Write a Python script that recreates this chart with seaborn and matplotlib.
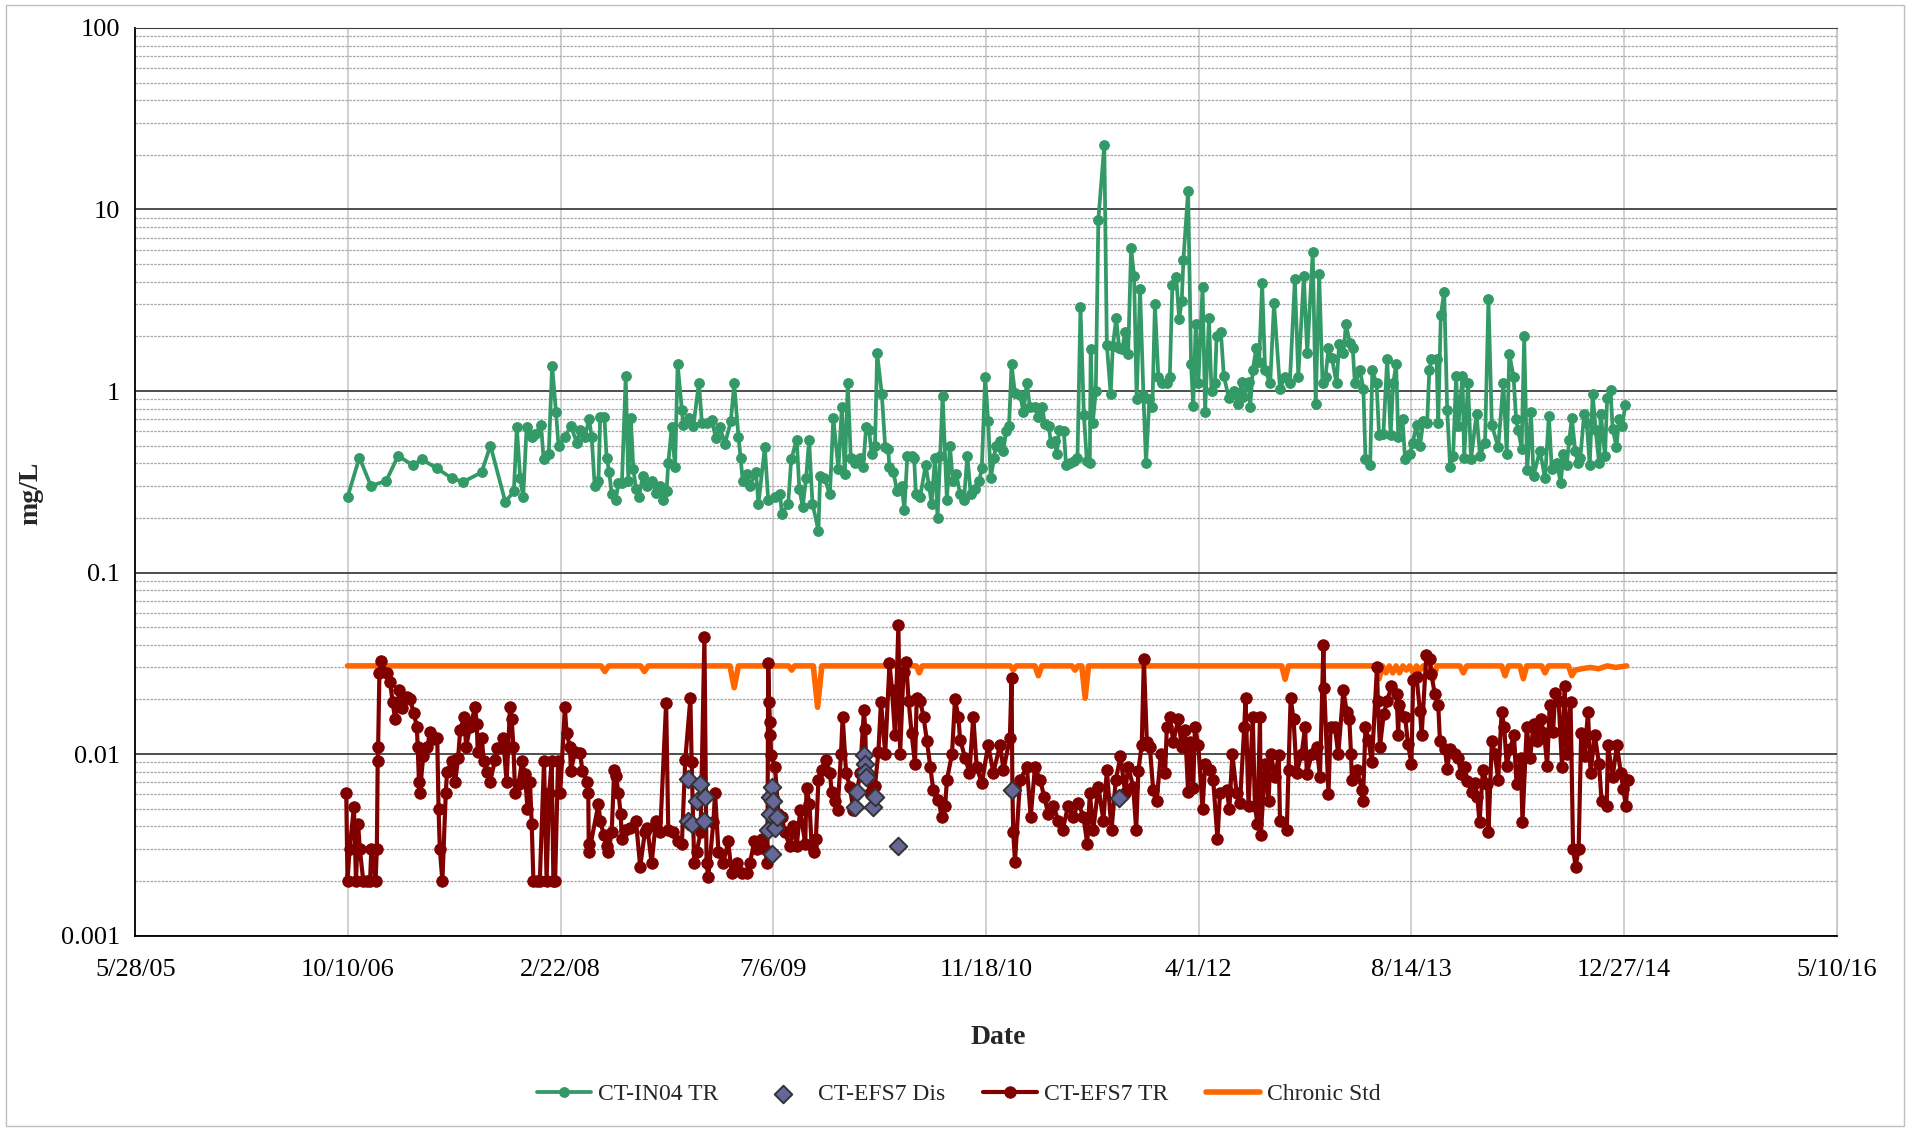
import numpy as np
import pandas as pd
import matplotlib
matplotlib.use("Agg")
import matplotlib.pyplot as plt
import matplotlib.dates as mdates
from matplotlib.ticker import FixedLocator, FuncFormatter, LogLocator, NullFormatter
from matplotlib.patches import Rectangle
import seaborn as sns

# -------------------------------
# Data (Excel serial dates, mg/L)
# -------------------------------
in04_dates = [
    38999, 39027, 39054, 39090, 39118, 39152, 39174, 39209, 39245, 39271, 39314, 39335, 39370, 39390,
    39397, 39405, 39412, 39420, 39432, 39440, 39454, 39460, 39472, 39480, 39489, 39495, 39510, 39524,
    39538, 39546, 39557, 39567, 39573, 39580, 39589, 39593, 39603, 39608, 39614, 39620, 39629, 39636,
    39644, 39653, 39659, 39665, 39671, 39677, 39684, 39693, 39702, 39714, 39724, 39734, 39741, 39749,
    39753, 39761, 39769, 39775, 39785, 39788, 39802, 39812, 39825, 39832, 39843, 39855, 39865, 39875,
    39886, 39900, 39908, 39918, 39923, 39928, 39937, 39945, 39959, 39965, 39980, 39988, 40004, 40016,
    40020, 40035, 40042, 40055, 40061, 40069, 40077, 40084, 40092, 40106, 40110, 40120, 40133, 40141,
    40153, 40161, 40168, 40175, 40182, 40192, 40204, 40211, 40218, 40225, 40231, 40239, 40244, 40255,
    40263, 40270, 40273, 40282, 40291, 40302, 40308, 40315, 40325, 40331, 40335, 40345, 40358, 40366,
    40372, 40380, 40386, 40392, 40398, 40408, 40415, 40422, 40430, 40439, 40448, 40456, 40464, 40474,
    40484, 40490, 40498, 40505, 40511, 40519, 40523, 40533, 40541, 40547, 40554, 40560, 40568, 40580,
    40588, 40596, 40603, 40615, 40623, 40632, 40638, 40648, 40652, 40662, 40666, 40672, 40683, 40688,
    40697, 40707, 40715, 40722, 40730, 40737, 40744, 40746, 40751, 40758, 40764, 40778, 40784, 40793,
    40798, 40806, 40813, 40820, 40827, 40834, 40841, 40848, 40854, 40862, 40870, 40876, 40884, 40891,
    40897, 40905, 40913, 40925, 40932, 40938, 40947, 40954, 40960, 40964, 40975, 40982, 40987, 40993,
    40999, 41009, 41015, 41024, 41030, 41038, 41042, 41052, 41059, 41071, 41083, 41093, 41101, 41105,
    41117, 41121, 41127, 41135, 41142, 41149, 41156, 41168, 41177, 41191, 41203, 41214, 41226, 41234,
    41247, 41255, 41268, 41275, 41283, 41291, 41298, 41305, 41313, 41324, 41330, 41340, 41346, 41355,
    41362, 41367, 41379, 41387, 41392, 41403, 41408, 41418, 41424, 41434, 41443, 41451, 41457, 41464,
    41469, 41479, 41485, 41496, 41503, 41512, 41520, 41528, 41537, 41542, 41547, 41559, 41563, 41569,
    41577, 41584, 41591, 41598, 41605, 41610, 41620, 41624, 41633, 41640, 41653, 41661, 41673, 41681,
    41689, 41704, 41716, 41724, 41730, 41740, 41746, 41751, 41759, 41765, 41772, 41781, 41787, 41802,
    41814, 41823, 41830, 41842, 41851, 41857, 41865, 41871, 41877, 41885, 41892, 41897, 41906, 41912,
    41919, 41926, 41933, 41941, 41945, 41955, 41960, 41968, 41973, 41982, 41988, 41995, 42003,
]
in04_tr = [
    0.26, 0.43, 0.30, 0.32, 0.44, 0.39, 0.42, 0.375, 0.33, 0.316, 0.356, 0.50, 0.245, 0.28,
    0.63, 0.33, 0.26, 0.63, 0.56, 0.58, 0.65, 0.42, 0.45, 1.38, 0.77, 0.50, 0.56, 0.64,
    0.52, 0.61, 0.56, 0.70, 0.56, 0.30, 0.32, 0.72, 0.72, 0.43, 0.36, 0.27, 0.25, 0.31,
    0.31, 1.21, 0.32, 0.71, 0.37, 0.29, 0.26, 0.34, 0.30, 0.32, 0.275, 0.30, 0.25, 0.28,
    0.40, 0.63, 0.38, 1.41, 0.79, 0.65, 0.71, 0.64, 1.11, 0.67, 0.67, 0.69, 0.55, 0.63,
    0.51, 0.68, 1.10, 0.56, 0.43, 0.32, 0.35, 0.30, 0.36, 0.24, 0.49, 0.25, 0.26, 0.27,
    0.21, 0.24, 0.42, 0.54, 0.29, 0.23, 0.33, 0.54, 0.24, 0.17, 0.34, 0.33, 0.27, 0.71,
    0.37, 0.82, 0.35, 1.11, 0.43, 0.40, 0.43, 0.38, 0.63, 0.61, 0.45, 0.50, 1.61, 0.96,
    0.49, 0.48, 0.38, 0.36, 0.28, 0.30, 0.22, 0.44, 0.44, 0.43, 0.27, 0.26, 0.39, 0.30,
    0.24, 0.43, 0.20, 0.44, 0.94, 0.25, 0.50, 0.32, 0.35, 0.27, 0.25, 0.44, 0.27, 0.29,
    0.32, 0.375, 1.20, 0.68, 0.33, 0.43, 0.50, 0.53, 0.47, 0.60, 0.64, 1.40, 0.97, 0.95,
    0.77, 1.11, 0.82, 0.82, 0.72, 0.82, 0.66, 0.64, 0.52, 0.53, 0.45, 0.61, 0.60, 0.39,
    0.40, 0.41, 0.43, 2.91, 0.74, 0.41, 0.40, 1.70, 0.67, 1.00, 8.8, 22.7, 1.79, 0.96,
    1.77, 2.51, 1.72, 1.70, 2.12, 1.59, 6.1, 4.3, 0.90, 3.63, 0.95, 0.40, 0.90, 0.82,
    3.0, 1.20, 1.10, 1.10, 1.20, 3.82, 4.26, 2.50, 3.13, 5.3, 12.7, 1.40, 0.83, 2.33,
    1.10, 3.73, 0.77, 2.51, 1.00, 1.10, 2.01, 2.12, 1.21, 0.91, 1.00, 0.85, 1.12, 0.93,
    1.12, 0.82, 1.30, 1.72, 1.45, 3.92, 1.30, 1.10, 3.04, 1.03, 1.20, 1.10, 4.12, 1.20,
    4.3, 1.61, 5.8, 0.85, 4.41, 1.10, 1.20, 1.72, 1.52, 1.10, 1.81, 1.61, 2.33, 1.85,
    1.72, 1.10, 1.30, 1.03, 0.42, 0.39, 1.30, 1.10, 0.57, 0.58, 1.51, 0.57, 1.10, 1.40,
    0.56, 0.70, 0.42, 0.45, 0.52, 0.65, 0.50, 0.68, 0.67, 1.30, 1.50, 1.50, 0.67, 2.62,
    3.52, 0.79, 0.38, 0.44, 1.21, 0.64, 1.21, 0.43, 1.11, 0.42, 0.75, 0.44, 0.52, 3.20,
    0.65, 0.49, 1.11, 0.45, 1.60, 1.20, 0.70, 0.61, 0.48, 2.01, 0.365, 0.77, 0.34, 0.47,
    0.33, 0.73, 0.37, 0.40, 0.31, 0.45, 0.39, 0.54, 0.71, 0.47, 0.40, 0.43, 0.75, 0.67,
    0.39, 0.96, 0.61, 0.40, 0.75, 0.44, 0.91, 1.01, 0.62, 0.49, 0.70, 0.64, 0.84,
]

efs7_dates = [
    38996, 38999, 39004, 39014, 39019, 39024, 39028, 39036, 39044, 39052, 39055, 39065, 39068, 39070,
    39071, 39074, 39078, 39091, 39099, 39105, 39111, 39121, 39126, 39138, 39146, 39155, 39162, 39164,
    39167, 39169, 39177, 39187, 39193, 39201, 39210, 39213, 39216, 39222, 39230, 39233, 39244, 39252,
    39259, 39264, 39273, 39278, 39287, 39299, 39303, 39305, 39315, 39319, 39326, 39334, 39346, 39350,
    39362, 39365, 39373, 39381, 39385, 39389, 39393, 39401, 39409, 39416, 39422, 39428, 39432, 39436,
    39444, 39451, 39461, 39467, 39473, 39479, 39483, 39487, 39494, 39499, 39510, 39514, 39522, 39524,
    39534, 39546, 39551, 39563, 39565, 39566, 39567, 39589, 39593, 39601, 39608, 39612, 39620, 39626,
    39630, 39636, 39641, 39644, 39651, 39663, 39677, 39687, 39698, 39704, 39714, 39724, 39734, 39748,
    39753, 39765, 39777, 39785, 39793, 39805, 39808, 39814, 39820, 39829, 39838, 39843, 39847, 39859,
    39863, 39871, 39882, 39894, 39902, 39914, 39926, 39937, 39945, 39955, 39961, 39973, 39980, 39986,
    39988, 39990, 39992, 39993, 39995, 40004, 40012, 40020, 40027, 40039, 40047, 40055, 40063, 40075,
    40078, 40085, 40090, 40096, 40100, 40106, 40114, 40124, 40133, 40137, 40145, 40151, 40159, 40163,
    40171, 40180, 40188, 40197, 40204, 40213, 40216, 40218, 40227, 40235, 40239, 40247, 40253, 40263,
    40273, 40279, 40286, 40294, 40298, 40306, 40312, 40318, 40325, 40333, 40337, 40345, 40353, 40361,
    40369, 40376, 40388, 40396, 40404, 40408, 40420, 40427, 40435, 40439, 40451, 40461, 40470, 40478,
    40490, 40505, 40517, 40533, 40541, 40556, 40560, 40562, 40564, 40568, 40580, 40596, 40605, 40615,
    40627, 40637, 40646, 40658, 40670, 40680, 40693, 40705, 40717, 40729, 40738, 40744, 40752, 40764,
    40776, 40784, 40795, 40805, 40816, 40827, 40834, 40846, 40853, 40858, 40866, 40871, 40878, 40885,
    40893, 40901, 40911, 40921, 40925, 40932, 40940, 40952, 40960, 40968, 40975, 40980, 40987, 40991,
    40999, 41009, 41015, 41026, 41034, 41044, 41050, 41066, 41072, 41079, 41089, 41097, 41107, 41110,
    41117, 41127, 41132, 41138, 41144, 41146, 41156, 41164, 41169, 41180, 41188, 41191, 41207, 41211,
    41216, 41223, 41230, 41242, 41250, 41254, 41266, 41277, 41285, 41293, 41295, 41305, 41310, 41320,
    41328, 41340, 41348, 41354, 41358, 41360, 41372, 41384, 41386, 41392, 41399, 41407, 41419, 41421,
    41426, 41435, 41443, 41453, 41465, 41469, 41471, 41485, 41492, 41500, 41504, 41512, 41520, 41524,
    41535, 41543, 41547, 41555, 41563, 41567, 41579, 41584, 41591, 41602, 41610, 41616, 41626, 41631,
    41642, 41649, 41655, 41660, 41668, 41678, 41681, 41689, 41696, 41704, 41712, 41718, 41724, 41732,
    41741, 41747, 41757, 41761, 41771, 41779, 41787, 41795, 41804, 41812, 41819, 41825, 41833, 41838,
    41846, 41854, 41860, 41866, 41874, 41880, 41886, 41893, 41899, 41907, 41915, 41921, 41931, 41941,
    41947, 41959, 41962, 41973, 41983, 41992, 41998, 42004, 42009,
]
efs7_tr = [
    0.0061, 0.0020, 0.0030, 0.0051, 0.0020, 0.0041, 0.0030, 0.0020, 0.0020, 0.0020, 0.0030, 0.0020, 0.0030, 0.0091,
    0.0110, 0.0280, 0.0326, 0.0280, 0.0250, 0.0194, 0.0155, 0.0225, 0.0180, 0.0207, 0.0200, 0.0168, 0.0141, 0.0110,
    0.0070, 0.0061, 0.0097, 0.0110, 0.0133, 0.0121, 0.0122, 0.0050, 0.0030, 0.0020, 0.0061, 0.0080, 0.0091, 0.0070,
    0.0095, 0.0136, 0.0160, 0.0110, 0.0141, 0.0181, 0.0146, 0.0103, 0.0122, 0.0091, 0.0080, 0.0070, 0.0093, 0.0108,
    0.0110, 0.0122, 0.0070, 0.0181, 0.0155, 0.0110, 0.0061, 0.0068, 0.0091, 0.0078, 0.0050, 0.0070, 0.0041, 0.0020,
    0.0020, 0.0020, 0.0091, 0.0020, 0.0061, 0.0091, 0.0020, 0.0020, 0.0091, 0.0061, 0.0181, 0.0130, 0.0110, 0.0081,
    0.0103, 0.0101, 0.0081, 0.0070, 0.0061, 0.0032, 0.0029, 0.0053, 0.0043, 0.0036, 0.0031, 0.0029, 0.0037, 0.0082,
    0.0076, 0.0061, 0.0047, 0.0034, 0.0038, 0.0039, 0.0043, 0.0024, 0.0037, 0.0039, 0.0025, 0.0043, 0.0037, 0.0192,
    0.0038, 0.0037, 0.0033, 0.0032, 0.0093, 0.0203, 0.0090, 0.0025, 0.0029, 0.0037, 0.0442, 0.0025, 0.0021, 0.0042,
    0.0061, 0.0029, 0.0025, 0.0033, 0.0022, 0.0025, 0.0022, 0.0022, 0.0025, 0.0033, 0.0030, 0.0034, 0.0030, 0.0025,
    0.0316, 0.0194, 0.0151, 0.0127, 0.0099, 0.0085, 0.0047, 0.0045, 0.0037, 0.0031, 0.0040, 0.0031, 0.0049, 0.0032,
    0.0065, 0.0053, 0.0031, 0.0029, 0.0034, 0.0072, 0.0082, 0.0093, 0.0079, 0.0062, 0.0055, 0.0049, 0.0100, 0.0161,
    0.0079, 0.0066, 0.0049, 0.0062, 0.0079, 0.0175, 0.0138, 0.0088, 0.0061, 0.0052, 0.0067, 0.0103, 0.0194, 0.0100,
    0.0316, 0.0225, 0.0127, 0.0513, 0.0100, 0.0284, 0.0320, 0.0197, 0.0130, 0.0088, 0.0203, 0.0197, 0.0161, 0.0118,
    0.0085, 0.0063, 0.0056, 0.0045, 0.0052, 0.0072, 0.0100, 0.0200, 0.0161, 0.0120, 0.0095, 0.0079, 0.0161, 0.0085,
    0.0069, 0.0112, 0.0079, 0.0112, 0.0082, 0.0122, 0.0261, 0.0063, 0.0037, 0.00255, 0.0072, 0.0085, 0.0045, 0.0085,
    0.0072, 0.0058, 0.0047, 0.0052, 0.0043, 0.0038, 0.0052, 0.0045, 0.0054, 0.0045, 0.0032, 0.0061, 0.0038, 0.0066,
    0.0043, 0.0082, 0.0038, 0.0072, 0.0097, 0.0061, 0.0085, 0.0066, 0.0038, 0.0081, 0.0112, 0.0333, 0.0117, 0.0110,
    0.0063, 0.0055, 0.0100, 0.0079, 0.0141, 0.0161, 0.0117, 0.0155, 0.0110, 0.0135, 0.0062, 0.0117, 0.0065, 0.0141,
    0.0112, 0.0050, 0.0088, 0.0082, 0.0072, 0.0034, 0.0061, 0.0063, 0.0050, 0.0100, 0.0061, 0.0054, 0.0141, 0.0203,
    0.0052, 0.0161, 0.0052, 0.0041, 0.0161, 0.0036, 0.0088, 0.0055, 0.0100, 0.0075, 0.0099, 0.0043, 0.0038, 0.0082,
    0.0203, 0.0155, 0.0079, 0.0100, 0.0141, 0.0078, 0.0100, 0.0110, 0.0075, 0.0398, 0.0230, 0.0060, 0.0141, 0.0141,
    0.0100, 0.0225, 0.0170, 0.0155, 0.0100, 0.0072, 0.0082, 0.0063, 0.0055, 0.0141, 0.0119, 0.0090, 0.0300, 0.0197,
    0.0110, 0.0167, 0.0197, 0.0236, 0.0213, 0.0127, 0.0187, 0.0161, 0.0113, 0.0088, 0.0256, 0.0265, 0.0173, 0.0127,
    0.0353, 0.0333, 0.0275, 0.0213, 0.0186, 0.0118, 0.0107, 0.0083, 0.0107, 0.0100, 0.0095, 0.0078, 0.0085, 0.0071,
    0.0062, 0.0069, 0.0058, 0.0042, 0.0082, 0.0068, 0.0037, 0.0118, 0.0100, 0.0072, 0.0171, 0.0141, 0.0086, 0.0107,
    0.0127, 0.0068, 0.0095, 0.0042, 0.0141, 0.0095, 0.0147, 0.0118, 0.0155, 0.0130, 0.0086, 0.0186, 0.0133, 0.0217,
    0.0197, 0.0085, 0.0236, 0.0100, 0.0194, 0.0030, 0.0024, 0.0030, 0.0130, 0.0098, 0.0171, 0.0079, 0.0127, 0.0088,
    0.0055, 0.0052, 0.0112, 0.0075, 0.0112, 0.0079, 0.0064, 0.0052, 0.0072,
]

dis_dates = [39800, 39800, 39808, 39820, 39828, 39837, 39840, 39988, 39991, 39992, 39996, 39998,
             40000, 40004, 40008, 40192, 40196, 40213, 40215, 40216, 40218, 40235, 40239, 40294,
             40560, 40813]
efs7_dis = [0.0073, 0.0043, 0.0041, 0.0055, 0.0068, 0.0043, 0.0058, 0.0038, 0.0058, 0.0047, 0.0066, 0.0028,
            0.0055, 0.0039, 0.0045, 0.0051, 0.0062, 0.0099, 0.0088, 0.0080, 0.0075, 0.0051, 0.0058, 0.0031,
            0.0063, 0.0057]

chronic_dates = [38999, 39595, 39604, 39613, 39688, 39697, 39706, 39898, 39908, 39918, 40036, 40043,
                 40050, 40094, 40104, 40114, 40336, 40343, 40350, 40557, 40564, 40571, 40615, 40623,
                 40631, 40702, 40709, 40716, 40725, 40733, 40741, 41195, 41203, 41211, 41416, 41424,
                 41432, 41440, 41448, 41456, 41464, 41472, 41480, 41488, 41496, 41504, 41512, 41520,
                 41528, 41536, 41544, 41552, 41560, 41614, 41622, 41630, 41712, 41720, 41728, 41755,
                 41763, 41771, 41806, 41814, 41822, 41869, 41877, 41885, 41900, 41920, 41940, 41960,
                 41980, 42006]
chronic_std = [0.0306, 0.0306, 0.0285, 0.0306, 0.0306, 0.0285, 0.0306, 0.0306, 0.0232, 0.0306, 0.0306, 0.0290,
               0.0306, 0.0306, 0.0181, 0.0306, 0.0306, 0.0280, 0.0306, 0.0306, 0.0290, 0.0306, 0.0306, 0.0270,
               0.0306, 0.0306, 0.0290, 0.0306, 0.0306, 0.0203, 0.0306, 0.0306, 0.0258, 0.0306, 0.0306, 0.0260,
               0.0306, 0.0280, 0.0306, 0.0280, 0.0306, 0.0280, 0.0306, 0.0290, 0.0306, 0.0280, 0.0306, 0.0290,
               0.0306, 0.0290, 0.0306, 0.0260, 0.0306, 0.0306, 0.0280, 0.0306, 0.0306, 0.0270, 0.0306, 0.0306,
               0.0260, 0.0306, 0.0306, 0.0280, 0.0306, 0.0306, 0.0270, 0.0290, 0.0295, 0.0300, 0.0295, 0.0306,
               0.0300, 0.0306]

x_tick_labels = ["5/28/05", "10/10/06", "2/22/08", "7/6/09", "11/18/10", "4/1/12", "8/14/13", "12/27/14", "5/10/16"]


def to_dt(serials):
    return pd.to_datetime(pd.Series(serials), unit="D", origin="1899-12-30")


# -------------------------------
# Plot
# -------------------------------
sns.set_style("white")
plt.rcParams["font.family"] = ["Liberation Serif", "DejaVu Serif"]

fig = plt.figure(figsize=(19.1, 11.28), dpi=100)
ax = fig.add_axes([0.0708, 0.1706, 0.8909, 0.8046])

sns.lineplot(x=to_dt(in04_dates), y=in04_tr, ax=ax, estimator=None, sort=False,
             color="#339966", linewidth=2.7, marker="o", markersize=7,
             markeredgecolor="#339966", label="CT-IN04 TR", zorder=3)
sns.lineplot(x=to_dt(chronic_dates), y=chronic_std, ax=ax, estimator=None, sort=False,
             color="#FF6600", linewidth=4.0, label="Chronic Std", zorder=2)
sns.lineplot(x=to_dt(efs7_dates), y=efs7_tr, ax=ax, estimator=None, sort=False,
             color="#800000", linewidth=3.0, marker="o", markersize=8.2,
             markeredgecolor="#800000", label="CT-EFS7 TR", zorder=3)
sns.scatterplot(x=to_dt(dis_dates), y=efs7_dis, ax=ax, marker="D", s=80,
                color="#666699", edgecolor="#333333", linewidth=1.4,
                label="CT-EFS7 Dis", zorder=4)

ax.set_yscale("log")
ax.set_ylim(0.001, 100)

xt = pd.to_datetime(pd.Series(x_tick_labels), format="%m/%d/%y")
xt_num = mdates.date2num(xt)
ax.set_xlim(xt_num[0], xt_num[-1])
ax.xaxis.set_major_locator(FixedLocator(xt_num))
ax.xaxis.set_major_formatter(FuncFormatter(lambda v, p: x_tick_labels[int(np.argmin(np.abs(xt_num - v)))]))
ax.xaxis.set_minor_locator(FixedLocator(np.arange(xt_num[0], xt_num[-1] + 1, 100)))

ax.yaxis.set_major_locator(LogLocator(base=10, numticks=10))
ax.yaxis.set_minor_locator(LogLocator(base=10, subs=np.arange(2, 10), numticks=20))
ax.yaxis.set_major_formatter(FuncFormatter(lambda v, p: f"{v:g}"))
ax.yaxis.set_minor_formatter(NullFormatter())

# gridlines
ax.set_axisbelow(True)
ax.grid(True, which="major", axis="y", color="#404040", linewidth=1.3, linestyle="-")
ax.grid(True, which="minor", axis="y", color="#a6a6a6", linewidth=0.9, linestyle=(0, (2, 1)))
ax.grid(True, which="major", axis="x", color="#c8c8c8", linewidth=1.2, linestyle="-")

for side in ["left", "bottom"]:
    ax.spines[side].set_color("black")
    ax.spines[side].set_linewidth(1.3)
ax.spines["top"].set_color("#404040")
ax.spines["right"].set_color("#c8c8c8")

ax.tick_params(axis="both", which="major", direction="out", length=7, width=1.2,
               labelsize=19, colors="black")
ax.tick_params(axis="x", which="major", pad=10)
ax.tick_params(axis="both", which="minor", direction="out", length=4, width=1.0, colors="black")
ax.tick_params(axis="y", which="major", pad=4)

ax.set_xlabel("Date", fontsize=20, fontweight="bold")
ax.set_ylabel("mg/L", fontsize=20, fontweight="bold")
ax.xaxis.set_label_coords(0.507, -0.099)
ax.yaxis.set_label_coords(-0.054, 0.487)

# legend in Excel order
handles, labels = ax.get_legend_handles_labels()
ax.get_legend().remove()
order = ["CT-IN04 TR", "CT-EFS7 Dis", "CT-EFS7 TR", "Chronic Std"]
hmap = dict(zip(labels, handles))
fig.legend([hmap[k] for k in order], order, loc="center", bbox_to_anchor=(0.502, 0.030),
           ncol=4, frameon=False, fontsize=17, handlelength=2.3, handletextpad=0.3,
           columnspacing=1.6)

fig.patches.append(Rectangle((0.003, 0.002), 0.994, 0.994, transform=fig.transFigure,
                             fill=False, edgecolor="#bfbfbf", linewidth=1.0))

fig.savefig("out.png", dpi=100)
